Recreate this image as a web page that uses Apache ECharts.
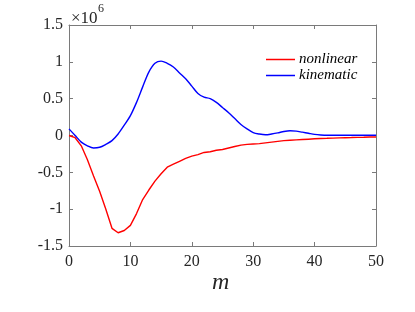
<!DOCTYPE html>
<html>
<head>
<meta charset="utf-8">
<script src="https://cdn.jsdelivr.net/npm/echarts@6/dist/echarts.min.js"></script>
<style>html,body{margin:0;padding:0;background:#fff;}#c{width:415px;height:312px;}</style>
</head>
<body>
<div id="c"></div>
<script>
const m = [];
for (let i = 0; i <= 50; i++) m.push(i);
const nonlinear = [0.0,-0.03,-0.14,-0.33,-0.55,-0.76,-1.0,-1.26,-1.32,-1.29,-1.22,-1.06,-0.87,-0.74,-0.62,-0.52,-0.43,-0.39,-0.35,-0.31,-0.28,-0.26,-0.23,-0.22,-0.2,-0.19,-0.17,-0.15,-0.13,-0.12,-0.115,-0.11,-0.1,-0.09,-0.08,-0.07,-0.065,-0.06,-0.055,-0.05,-0.045,-0.04,-0.038,-0.035,-0.032,-0.03,-0.028,-0.025,-0.023,-0.02,-0.02];
const kinematic = [0.09,0.0,-0.09,-0.14,-0.17,-0.16,-0.12,-0.07,0.02,0.14,0.27,0.45,0.66,0.86,0.98,1.01,0.98,0.93,0.85,0.77,0.67,0.57,0.52,0.5,0.45,0.38,0.31,0.23,0.15,0.09,0.04,0.02,0.01,0.02,0.035,0.055,0.065,0.06,0.045,0.03,0.015,0.007,0.003,0.003,0.003,0.003,0.003,0.003,0.003,0.003,0.003];
const xTicks = [0, 10, 20, 30, 40, 50];
const yTicks = [-1.5, -1, -0.5, 0, 0.5, 1, 1.5];
const seriesNames = ['nonlinear', 'kinematic'];

const font = 'Liberation Serif';
const axisCol = '#7a7a7a';
const chart = echarts.init(document.getElementById('c'), null, {renderer: 'canvas'});
const pair = (xs, ys) => xs.map((x, i) => [x, ys[i]]);
const baseX = {
  type: 'value', min: xTicks[0], max: xTicks[xTicks.length - 1], interval: 10,
  axisLine: {lineStyle: {color: axisCol, width: 1}},
  axisTick: {inside: true, length: 4, lineStyle: {color: axisCol}},
  splitLine: {show: false}
};
const baseY = {
  type: 'value', min: yTicks[0], max: yTicks[yTicks.length - 1], interval: 0.5,
  axisLine: {onZero: false, lineStyle: {color: axisCol, width: 1}},
  axisTick: {inside: true, length: 4, lineStyle: {color: axisCol}},
  splitLine: {show: false}
};
chart.setOption({
  animation: false,
  backgroundColor: '#fff',
  grid: {left: 69, right: 39, top: 25, bottom: 66, containLabel: false},
  xAxis: [
    Object.assign({}, baseX, {position: 'bottom', axisLine: {onZero: false, lineStyle: {color: axisCol}},
      axisLabel: {show: true, margin: 8, color: '#262626', fontFamily: font, fontSize: 16}}),
    Object.assign({}, baseX, {position: 'top', axisLine: {onZero: false, lineStyle: {color: axisCol}}, axisLabel: {show: false}})
  ],
  yAxis: [
    Object.assign({}, baseY, {position: 'left',
      axisLabel: {show: true, margin: 6, color: '#262626', fontFamily: font, fontSize: 16,
        formatter: v => String(Math.round(v * 10) / 10)}}),
    Object.assign({}, baseY, {position: 'right', axisLabel: {show: false}})
  ],
  legend: {
    orient: 'vertical', left: 261, top: 47, itemWidth: 29, itemHeight: 1.5, itemGap: 1,
    icon: 'rect', data: seriesNames,
    textStyle: {fontFamily: font, fontStyle: 'italic', fontSize: 15, color: '#000', padding: [0,0,0,-1]}
  },
  series: [
    {name: seriesNames[0], type: 'line', data: pair(m, nonlinear), symbol: 'none', smooth: false,
      lineStyle: {color: '#ff0000', width: 1.4}, itemStyle: {color: '#ff0000'}, xAxisIndex: 0, yAxisIndex: 0},
    {name: seriesNames[1], type: 'line', data: pair(m, kinematic), symbol: 'none', smooth: 0.3,
      lineStyle: {color: '#0000ff', width: 1.4}, itemStyle: {color: '#0000ff'}, xAxisIndex: 0, yAxisIndex: 0}
  ],
  graphic: [
    {type: 'text', left: 71, top: 10, style: {text: '×10', fontFamily: font, fontSize: 17, fill: '#262626'}},
    {type: 'text', left: 98, top: 3, style: {text: '6', fontFamily: font, fontSize: 12, fill: '#262626'}},
    {type: 'text', left: 212, top: 271, style: {text: 'm', fontFamily: font, fontStyle: 'italic', fontSize: 24, fill: '#262626'}}
  ]
});
</script>
</body>
</html>
